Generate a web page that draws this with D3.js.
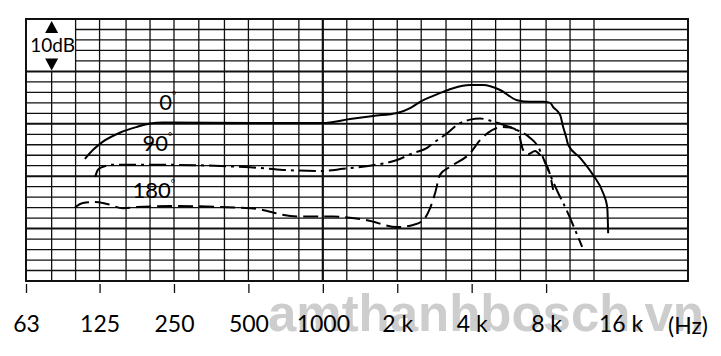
<!DOCTYPE html>
<html><head><meta charset="utf-8">
<script src="https://cdn.jsdelivr.net/npm/d3@7"></script>
<style>body{margin:0;background:#fff}svg{display:block}</style>
</head><body><svg id="c" width="721" height="356"></svg>
<script>
// ---- data ----
const freqTicks = [63,125,250,500,1000,2000,4000,8000,16000];
const tickLabels = ["63","125","250","500","1000","2 k","4 k","8 k","16 k"];
const gridFreqs = [80,100,125,160,200,250,315,400,500,630,800,1000,1250,1600,2000,2500,3150,4000,5000,6300,8000,10000,12500];
const dbGridValues = [-28,-26,-24,-22,-20,-18,-16,-14,-12,-10,-8,-6,-4,-2,0,2,4,6,8,10,12,14,16,18];

const f0  = [109,118,129,151,177,200,226,508,994,1289,1597,1997,2254,2474,2716,3066,3366,3943,4450,5214,6109,6895,7785,8308,8543,9117,9378,9641,9823,10987,12404,13610,14140,14263];
const db0 = [-6.7,-4.9,-3.4,-1.7,-0.6,0.05,0.25,0.15,0.15,0.9,1.5,2.05,3.0,4.2,5.1,6.1,6.8,7.4,7.4,6.45,4.5,4.2,4.2,4.0,3.2,1.7,-0.6,-2.5,-4.0,-6.5,-9.8,-13.2,-15.9,-20.9];

const f90  = [120,123,129,142,200,508,690,994,1208,1597,1997,2320,2642,2793,3184,3493,3943,4328,4839,5214,6109,6895,7430,7785,8155,8953,9378,11195];
const db90 = [-10.15,-8.8,-8.2,-7.8,-7.8,-8.3,-8.8,-9.0,-8.6,-7.9,-6.9,-5.6,-4.6,-3.7,-1.8,-0.2,0.8,1.0,0.5,0,-1.2,-2.7,-4.4,-6.5,-8.8,-13.2,-15.1,-23.5];

const f180  = [99.5,107,120,134,155.5,177,241,508,787,1100,1510,1997,2320,2545,2716,2846,2982,3273,3943,4328,4839,5312,5830,6168,6458,6767,7222,7571,7931,8308,8543];
const db180 = [-15.9,-15.1,-14.9,-15.3,-16.1,-15.9,-15.7,-16.1,-17.7,-17.7,-18.4,-19.7,-19.3,-18.4,-16.1,-13.2,-9.7,-8.2,-5.6,-3.1,-1.2,-0.6,-0.8,-1.6,-5.0,-5.8,-5.2,-6.0,-7.3,-9.8,-12.6];

const seriesNames = ["0","90","180"];
const labelFreqs = [236, 214, 207];
const labelDbs = [2.6, -5.2, -14.2];

// ---- layout ----
const L = 26, R = 688, T = 19, B = 281;
const svg = d3.select("#c");
const x = d3.scaleLog().domain([63, 30000]).range([L, R]);
const y = d3.scaleLinear().domain([-30, 20]).range([B, T]);
const ink = "#111";
const font = "Lato, 'Open Sans', sans-serif";

// watermark
svg.append("text").attr("x", 268).attr("y", 331)
  .attr("font-family", "'Liberation Sans', Arial, sans-serif").attr("font-weight", "bold")
  .attr("font-size", 52).attr("fill", "#cdcdcd")
  .attr("textLength", 436).attr("lengthAdjust", "spacingAndGlyphs")
  .text("amthanhbosch.vn");

// horizontal grid
const g = svg.append("g");
g.selectAll("line.h").data(dbGridValues).join("line")
  .attr("x1", d => d > 10 ? x(100) : L).attr("x2", R)
  .attr("y1", d => y(d)).attr("y2", d => y(d))
  .attr("stroke", ink).attr("stroke-width", d => d % 10 === 0 ? 2 : 1.3);

// vertical grid
g.selectAll("line.v").data(gridFreqs).join("line")
  .attr("x1", d => x(d)).attr("x2", d => x(d))
  .attr("y1", d => d < 100 ? y(10) : T).attr("y2", B)
  .attr("stroke", ink).attr("stroke-width", d => d === 1000 ? 2.2 : 1.3);

// frame
g.append("rect").attr("x", L).attr("y", T).attr("width", R - L).attr("height", B - T)
  .attr("fill", "none").attr("stroke", ink).attr("stroke-width", 2);

// 10 dB marker
const mx = x(80);
g.append("path").attr("d", `M${mx},${y(20)+2} L${mx-6.5},${y(20)+14} L${mx+6.5},${y(20)+14} Z`).attr("fill", "#000");
g.append("path").attr("d", `M${mx},${y(10)-1} L${mx-6.5},${y(10)-13} L${mx+6.5},${y(10)-13} Z`).attr("fill", "#000");
g.append("text").attr("x", mx + 1).attr("y", (y(20) + y(10)) / 2 + 7)
  .attr("text-anchor", "middle").attr("font-family", font).attr("font-size", 19).attr("fill", "#000")
  .text("10dB");

// axis
const axis = d3.axisBottom(x).tickValues(freqTicks)
  .tickFormat((d, i) => tickLabels[i]).tickSize(9).tickPadding(23);
const ax = svg.append("g").attr("transform", `translate(0,${284})`).call(axis);
ax.select(".domain").remove();
ax.selectAll(".tick line").attr("stroke", ink).attr("stroke-width", 1.3)
  .attr("opacity", d => d === 16000 ? 0 : 1);
ax.selectAll(".tick text").attr("font-family", font).attr("font-size", 23).attr("fill", "#000");
svg.append("text").attr("x", R).attr("y", 334).attr("text-anchor", "middle")
  .attr("font-family", font).attr("font-size", 23).attr("fill", "#000").text("(Hz)");

// curves
const line = d3.line().x(d => x(d[0])).y(d => y(d[1])).curve(d3.curveMonotoneX);
const curves = [
  {f: f0, v: db0, dash: null},
  {f: f90, v: db90, dash: "17,5,3,5"},
  {f: f180, v: db180, dash: "15,6"}
];
curves.forEach(c => {
  svg.append("path").datum(c.f.map((f, i) => [f, c.v[i]]))
    .attr("d", line).attr("fill", "none").attr("stroke", "#000")
    .attr("stroke-width", 2).attr("stroke-dasharray", c.dash)
    .attr("stroke-linecap", "butt");
});

// curve labels
seriesNames.forEach((n, i) => {
  const t = svg.append("text").attr("x", x(labelFreqs[i])).attr("y", y(labelDbs[i]))
    .attr("text-anchor", "middle").attr("font-family", font).attr("font-size", 22).attr("fill", "#000");
  t.append("tspan").text(n);
  t.append("tspan").attr("font-size", 10).attr("dy", -11).text("°");
});
</script>
</body></html>
